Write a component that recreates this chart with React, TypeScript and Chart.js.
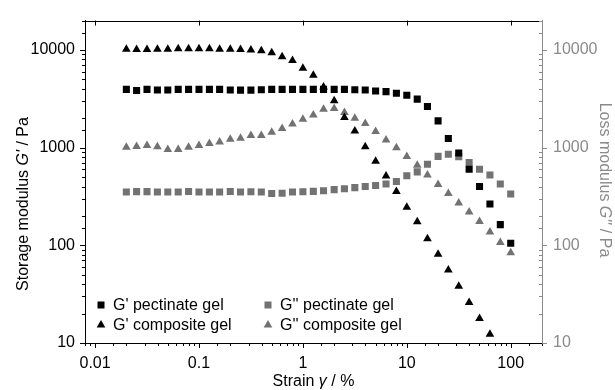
import React, { useEffect, useRef } from 'react';
import { Chart, registerables } from 'chart.js';

Chart.register(...registerables);

const FONT = '"Liberation Sans", Arial, Helvetica, sans-serif';
const BLACK = '#000000';
const GRAY = '#727272';
const AXIS_GRAY = '#8a8a8a';

// Strain values (%)
const strain = [
  0.02, 0.0251, 0.0316, 0.0398, 0.0501, 0.0631, 0.0794, 0.1, 0.126, 0.158,
  0.2, 0.251, 0.316, 0.398, 0.501, 0.631, 0.794, 1, 1.26, 1.58,
  2, 2.51, 3.16, 3.98, 5.01, 6.31, 7.94, 10, 12.6, 15.8,
  20, 25.1, 31.6, 39.8, 50.1, 63.1, 79.4, 100,
];

// G' pectinate gel (Pa)
const gPrimePectinate = [
  3950, 3850, 3950, 3900, 3900, 3950, 3950, 3950, 3950, 3950,
  3900, 3880, 3880, 3920, 3950, 3950, 3950, 3950, 3950, 3950,
  3950, 3950, 3920, 3890, 3800, 3750, 3600, 3440, 3140, 2640,
  1880, 1240, 880, 600, 400, 265, 163, 105,
];

// G' composite gel (Pa)
const gPrimeComposite = [
  10160, 10100, 10100, 10160, 10200, 10300, 10300, 10300, 10300, 10200,
  10160, 10100, 10000, 9840, 9400, 8510, 7820, 6500, 5500, 4170,
  3020, 2040, 1480, 1020, 724, 513, 355, 245, 174, 117,
  81, 56, 38, 26, 17.8, 12.3,
];

// G'' pectinate gel (Pa)
const gDoublePectinate = [
  352, 355, 355, 352, 352, 352, 356, 352, 352, 352,
  356, 352, 354, 352, 340, 342, 352, 354, 357, 362,
  372, 380, 390, 400, 410, 425, 450, 515, 565, 675,
  815, 855, 810, 705, 600, 525, 425, 335,
];

// G'' composite gel (Pa)
const gDoubleComposite = [
  1010, 1030, 1050, 1020, 955, 960, 1010, 1050, 1100, 1140,
  1220, 1250, 1330, 1330, 1440, 1570, 1750, 1950, 2160, 2470,
  2520, 2290, 2000, 1770, 1460, 1200, 1000, 810, 660, 525,
  420, 340, 272, 219, 175, 137, 107, 84,
];

const seriesLabels = ["G' pectinate gel", "G' composite gel", "G'' pectinate gel", "G'' composite gel"];
const xTickLabels = ['0.01', '0.1', '1', '10', '100'];
const yTickLabels = ['10', '100', '1000', '10000'];

const X_MIN = 0.008;
const X_MAX = 200;
const Y_MIN = 10;
const Y_MAX = 20000;

function isPow10(v: number) {
  const l = Math.log10(v);
  return Math.abs(l - Math.round(l)) < 1e-6;
}

function labelFor(v: number, list: string[]) {
  if (!isPow10(v)) return '';
  const s = list.find((t) => Math.abs(parseFloat(t) - v) < v * 1e-6);
  return s ?? '';
}

function toPoints(values: number[]) {
  return values.map((y, i) => ({ x: strain[i], y }));
}

function drawRich(
  ctx: CanvasRenderingContext2D,
  parts: { text: string; italic?: boolean }[],
  x: number,
  y: number,
  rotation: number,
  color: string,
  size: number
) {
  ctx.save();
  ctx.translate(x, y);
  ctx.rotate(rotation);
  ctx.fillStyle = color;
  ctx.textBaseline = 'middle';
  ctx.textAlign = 'left';
  const fonts = parts.map((p) => `${p.italic ? 'italic ' : ''}${size}px ${FONT}`);
  let total = 0;
  const widths = parts.map((p, i) => {
    ctx.font = fonts[i];
    const w = ctx.measureText(p.text).width;
    total += w;
    return w;
  });
  let cx = -total / 2;
  parts.forEach((p, i) => {
    ctx.font = fonts[i];
    ctx.fillText(p.text, cx, 0);
    cx += widths[i];
  });
  ctx.restore();
}

const decorPlugin = {
  id: 'decor',
  afterDraw(chart: any) {
    const ctx: CanvasRenderingContext2D = chart.ctx;
    const { left, right, top, bottom } = chart.chartArea;
    const xs = chart.scales.x;
    const ys = chart.scales.y;
    const y2 = chart.scales.y2;
    ctx.save();
    ctx.lineWidth = 1;
    const line = (x1: number, yA: number, x2: number, yB: number) => {
      ctx.beginPath();
      ctx.moveTo(x1, yA);
      ctx.lineTo(x2, yB);
      ctx.stroke();
    };
    // top frame
    ctx.strokeStyle = BLACK;
    line(left, Math.round(top) + 0.5, right, Math.round(top) + 0.5);
    // x ticks
    for (const t of xs.ticks) {
      const v = t.value;
      if (v < X_MIN || v > X_MAX) continue;
      const px = Math.round(xs.getPixelForValue(v)) + 0.5;
      const major = isPow10(v);
      line(px, bottom, px, bottom + (major ? 5 : 3));
      if (major) line(px, top, px, top + 5);
    }
    // left y ticks
    for (const t of ys.ticks) {
      const v = t.value;
      if (v < Y_MIN || v > Y_MAX) continue;
      const py = Math.round(ys.getPixelForValue(v)) + 0.5;
      const major = isPow10(v);
      line(left, py, left - (major ? 5 : 3), py);
    }
    // right y ticks
    ctx.strokeStyle = AXIS_GRAY;
    for (const t of y2.ticks) {
      const v = t.value;
      if (v < Y_MIN || v > Y_MAX) continue;
      const py = Math.round(y2.getPixelForValue(v)) + 0.5;
      const major = isPow10(v);
      if (major) line(right, py, right + 5, py);
      else line(right, py, right - 3, py);
    }
    ctx.restore();

    // axis titles
    drawRich(ctx, [{ text: 'Storage modulus ' }, { text: "G'", italic: true }, { text: ' / Pa' }], 24, 204, -Math.PI / 2, BLACK, 16);
    drawRich(ctx, [{ text: 'Loss modulus ' }, { text: "G''", italic: true }, { text: ' / Pa' }], 604, 180, Math.PI / 2, AXIS_GRAY, 16);
    drawRich(ctx, [{ text: 'Strain ' }, { text: 'γ', italic: true }, { text: ' / %' }], (left + right) / 2, 382, 0, BLACK, 16);

    // legend
    const cols = [101, 268];
    const rows = [305, 325];
    const items = [
      { label: seriesLabels[0], color: BLACK, shape: 'rect', col: 0, row: 0 },
      { label: seriesLabels[1], color: BLACK, shape: 'tri', col: 0, row: 1 },
      { label: seriesLabels[2], color: GRAY, shape: 'rect', col: 1, row: 0 },
      { label: seriesLabels[3], color: GRAY, shape: 'tri', col: 1, row: 1 },
    ];
    ctx.save();
    ctx.font = `16px ${FONT}`;
    ctx.textBaseline = 'middle';
    ctx.textAlign = 'left';
    for (const it of items) {
      const mx = cols[it.col];
      const my = rows[it.row];
      ctx.fillStyle = it.color;
      if (it.shape === 'rect') {
        ctx.fillRect(mx - 3.5, my - 3.5, 7, 7);
      } else {
        const r = 5;
        ctx.beginPath();
        ctx.moveTo(mx, my - r);
        ctx.lineTo(mx + r * 0.866, my + r * 0.5);
        ctx.lineTo(mx - r * 0.866, my + r * 0.5);
        ctx.closePath();
        ctx.fill();
      }
      ctx.fillStyle = BLACK;
      ctx.fillText(it.label, mx + 12, my + 1);
    }
    ctx.restore();
  },
};

export default function App() {
  const canvasRef = useRef<HTMLCanvasElement | null>(null);

  useEffect(() => {
    if (!canvasRef.current) return;
    const tickFont = { family: FONT, size: 16 };
    const chart = new Chart(canvasRef.current, {
      type: 'scatter',
      data: {
        datasets: [
          {
            label: seriesLabels[0],
            data: toPoints(gPrimePectinate),
            yAxisID: 'y',
            pointStyle: 'rect',
            pointRadius: 5,
            borderWidth: 0,
            backgroundColor: BLACK,
            borderColor: BLACK,
          },
          {
            label: seriesLabels[1],
            data: toPoints(gPrimeComposite),
            yAxisID: 'y',
            pointStyle: 'triangle',
            pointRadius: 5,
            borderWidth: 0,
            backgroundColor: BLACK,
            borderColor: BLACK,
          },
          {
            label: seriesLabels[2],
            data: toPoints(gDoublePectinate),
            yAxisID: 'y2',
            pointStyle: 'rect',
            pointRadius: 5,
            borderWidth: 0,
            backgroundColor: GRAY,
            borderColor: GRAY,
          },
          {
            label: seriesLabels[3],
            data: toPoints(gDoubleComposite),
            yAxisID: 'y2',
            pointStyle: 'triangle',
            pointRadius: 5,
            borderWidth: 0,
            backgroundColor: GRAY,
            borderColor: GRAY,
          },
        ],
      },
      options: {
        animation: false,
        responsive: true,
        maintainAspectRatio: false,
        layout: { padding: { top: 14, left: 0, right: 0, bottom: 0 } },
        plugins: {
          legend: { display: false },
          tooltip: { enabled: false },
          title: { display: false },
        },
        scales: {
          x: {
            type: 'logarithmic',
            min: X_MIN,
            max: X_MAX,
            grid: { display: true, drawOnChartArea: false, drawTicks: false },
            border: { display: true, color: BLACK, width: 1 },
            ticks: {
              autoSkip: false,
              maxRotation: 0,
              padding: 11,
              color: BLACK,
              font: tickFont,
              callback: (v: any) => labelFor(Number(v), xTickLabels),
            },
            afterFit: (s: any) => {
              s.height = 47;
            },
          },
          y: {
            type: 'logarithmic',
            position: 'left',
            min: Y_MIN,
            max: Y_MAX,
            grid: { display: true, drawOnChartArea: false, drawTicks: false },
            border: { display: true, color: BLACK, width: 1 },
            ticks: {
              autoSkip: false,
              padding: 10,
              color: BLACK,
              font: tickFont,
              callback: (v: any) => labelFor(Number(v), yTickLabels),
            },
            afterFit: (s: any) => {
              s.width = 85;
            },
          },
          y2: {
            type: 'logarithmic',
            position: 'right',
            min: Y_MIN,
            max: Y_MAX,
            grid: { display: true, drawOnChartArea: false, drawTicks: false },
            border: { display: true, color: AXIS_GRAY, width: 1 },
            ticks: {
              autoSkip: false,
              padding: 11,
              color: AXIS_GRAY,
              font: tickFont,
              callback: (v: any) => labelFor(Number(v), yTickLabels),
            },
            afterFit: (s: any) => {
              s.width = 73;
            },
          },
        },
      } as any,
      plugins: [decorPlugin],
    });
    return () => chart.destroy();
  }, []);

  return (
    <div style={{ position: 'fixed', left: 0, top: 0, width: 615, height: 390, background: '#fff' }}>
      <canvas ref={canvasRef} />
    </div>
  );
}
